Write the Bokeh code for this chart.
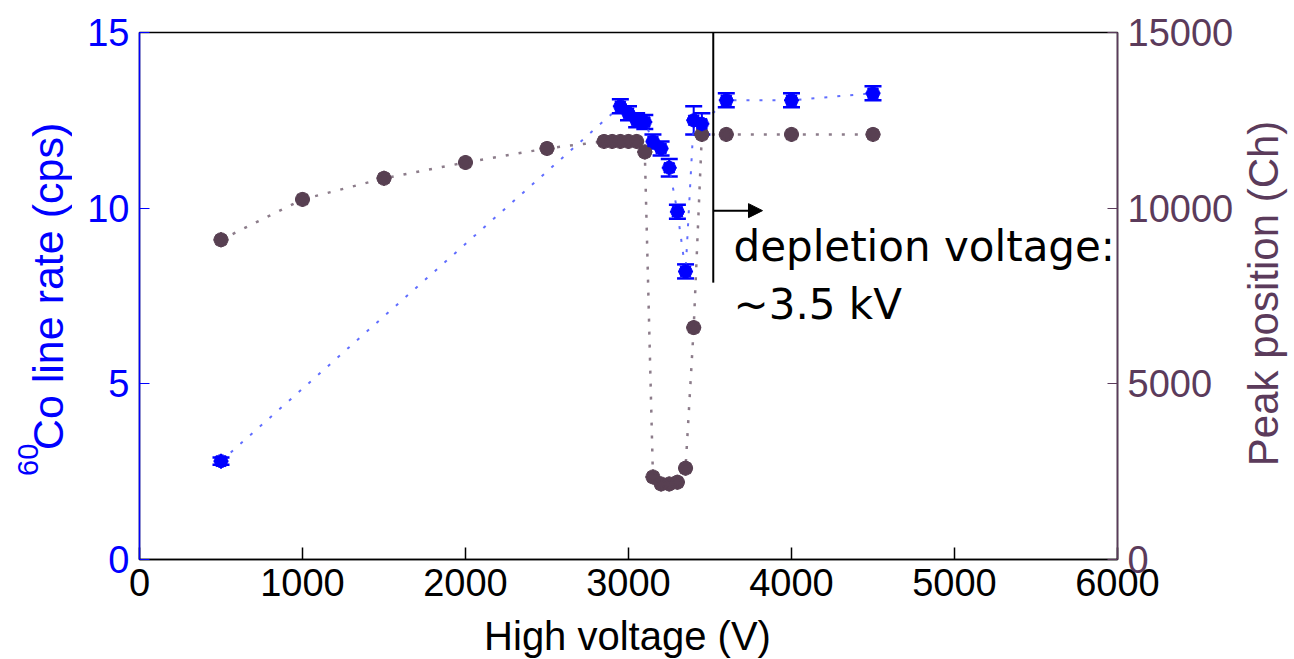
import numpy as np
from bokeh.plotting import figure
from bokeh.models import (Range1d, LinearAxis, FixedTicker, ColumnDataSource, Whisker,
                          TeeHead, Label, Arrow, NormalHead)
from bokeh.layouts import row, column
from bokeh.embed import file_html
from bokeh.resources import INLINE

# ---- data ----
rate_v = [500, 2950, 3000, 3050, 3100, 3150, 3200, 3250, 3300, 3350, 3400, 3450, 3600, 4000, 4500]
rate = [2.8, 12.9, 12.7, 12.5, 12.45, 11.9, 11.7, 11.15, 9.9, 8.2, 12.5, 12.4, 13.07, 13.07, 13.27]
rate_err = [0.1, 0.2, 0.2, 0.2, 0.2, 0.2, 0.2, 0.25, 0.2, 0.2, 0.4, 0.3, 0.2, 0.2, 0.2]

peak_v = [500, 1000, 1500, 2000, 2500, 2850, 2900, 2950, 3000, 3050, 3100, 3150, 3200, 3250,
          3300, 3350, 3400, 3450, 3600, 4000, 4500]
peak = [9100, 10250, 10850, 11300, 11700, 11900, 11900, 11900, 11900, 11900, 11600, 2350, 2150,
        2150, 2200, 2600, 6600, 12100, 12100, 12100, 12100]

x_ticks = [0, 1000, 2000, 3000, 4000, 5000, 6000]
left_ticks = [0, 5, 10, 15]
right_ticks = [0, 5000, 10000, 15000]

x_title = "High voltage (V)"
left_title_sup = "60"
left_title = "Co line rate (cps)"
right_title = "Peak position (Ch)"

depletion_v = 3520

BLUE = "#0000ff"
PURPLE = "#5b3b5b"
MARK = "#584052"
FONT = "Liberation Sans"


def blank(w, h):
    f = figure(width=w, height=h, output_backend="svg", toolbar_location=None,
               x_range=Range1d(0, w), y_range=Range1d(0, h), min_border=0,
               x_axis_location=None, y_axis_location=None)
    f.grid.visible = False
    f.outline_line_color = None
    f.background_fill_color = "white"
    f.border_fill_color = "white"
    return f


# ---- yellow strip at the top ----
strip = blank(1294, 3)
strip.background_fill_color = "#f7f28c"
strip.border_fill_color = "#f7f28c"

# ---- main plot ----
p = figure(width=1165, height=608, output_backend="svg", toolbar_location=None,
           x_range=Range1d(0, 6000), y_range=Range1d(0, 15),
           min_border_left=67, min_border_right=120, min_border_top=29, min_border_bottom=52)
p.extra_y_ranges = {"peak": Range1d(0, 15000)}
p.grid.visible = False
p.outline_line_color = "black"
p.outline_line_width = 1.5
p.background_fill_color = "white"
p.border_fill_color = "white"

xa = p.xaxis[0]
xa.ticker = FixedTicker(ticks=x_ticks)
xa.major_tick_in = 12
xa.major_tick_out = 0
xa.minor_tick_line_color = None
xa.axis_line_color = "black"
xa.axis_line_width = 1.5
xa.major_tick_line_width = 1.5
xa.major_label_text_font = FONT
xa.major_label_text_font_size = "38px"
xa.major_label_text_color = "black"
xa.major_label_standoff = 9

ya = p.yaxis[0]
ya.ticker = FixedTicker(ticks=left_ticks)
ya.major_tick_in = 10
ya.major_tick_out = 0
ya.minor_tick_line_color = None
ya.axis_line_color = BLUE
ya.axis_line_width = 1.5
ya.major_tick_line_color = BLUE
ya.major_label_text_font = FONT
ya.major_label_text_font_size = "38px"
ya.major_label_text_color = BLUE
ya.major_label_standoff = 10

ra = LinearAxis(y_range_name="peak", ticker=FixedTicker(ticks=right_ticks))
ra.major_tick_in = 10
ra.major_tick_out = 0
ra.minor_tick_line_color = None
ra.axis_line_color = PURPLE
ra.axis_line_width = 1.5
ra.major_tick_line_color = PURPLE
ra.major_label_text_font = FONT
ra.major_label_text_font_size = "38px"
ra.major_label_text_color = PURPLE
ra.major_label_standoff = 10
p.add_layout(ra, "right")

# peak position series
p.line(peak_v, peak, y_range_name="peak", line_color="#8c7c8a", line_width=2.5, line_dash="3 10")
p.scatter(peak_v, peak, y_range_name="peak", size=14, marker="circle", fill_color=MARK,
          line_color=MARK)
p.scatter(peak_v, peak, y_range_name="peak", size=15, marker="asterisk", line_color=MARK,
          line_width=2)

# rate series
rate_arr = np.array(rate)
err_arr = np.array(rate_err)
src = ColumnDataSource(dict(x=rate_v, y=rate, upper=rate_arr + err_arr, lower=rate_arr - err_arr))
p.line("x", "y", source=src, line_color="#3848ff", line_alpha=0.8, line_width=2, line_dash="3 10")
w = Whisker(base="x", upper="upper", lower="lower", source=src, line_color=BLUE, line_width=2,
            upper_head=TeeHead(size=17, line_color=BLUE, line_width=2.5),
            lower_head=TeeHead(size=17, line_color=BLUE, line_width=2.5))
p.add_layout(w)
p.scatter("x", "y", source=src, size=13, marker="circle", fill_color=BLUE, line_color=BLUE)
p.scatter("x", "y", source=src, size=15, marker="asterisk", line_color=BLUE, line_width=2)

# depletion annotation
p.segment(x0=[depletion_v], y0=[7.88], x1=[depletion_v], y1=[15], line_color="black", line_width=2)
p.add_layout(Arrow(end=NormalHead(size=14, fill_color="black", line_color="black"),
                   x_start=depletion_v, y_start=9.93, x_end=3822, y_end=9.93,
                   line_color="black", line_width=2))
p.add_layout(Label(x=3644, y=8.91, text="depletion voltage:", text_font="DejaVu Sans",
                   text_font_size="42px", text_color="black", text_baseline="alphabetic"))
p.add_layout(Label(x=3644, y=7.26, text="~3.5 kV", text_font="DejaVu Sans",
                   text_font_size="42px", text_color="black", text_baseline="alphabetic"))

# ---- left title panel ----
lf = blank(72, 608)
lf.add_layout(Label(x=47, y=315, text=left_title, text_font=FONT, text_font_size="43px",
                    text_color=BLUE, text_align="center", text_baseline="middle",
                    angle=np.pi / 2))
lf.add_layout(Label(x=27, y=115, text=left_title_sup, text_font=FONT, text_font_size="29px",
                    text_color=BLUE, text_align="center", text_baseline="middle",
                    angle=np.pi / 2))

# ---- right title panel ----
rf = blank(57, 608)
rf.add_layout(Label(x=26, y=307, text=right_title, text_font=FONT, text_font_size="42px",
                    text_color=PURPLE, text_align="center", text_baseline="middle",
                    angle=np.pi / 2))

# ---- bottom title panel ----
bf = blank(1294, 51)
bf.add_layout(Label(x=627, y=27, text=x_title, text_font=FONT, text_font_size="40px",
                    text_color="black", text_align="center", text_baseline="middle"))

layout = column(strip, row(lf, p, rf), bf)
open("out.html", "w").write(file_html(layout, INLINE))
